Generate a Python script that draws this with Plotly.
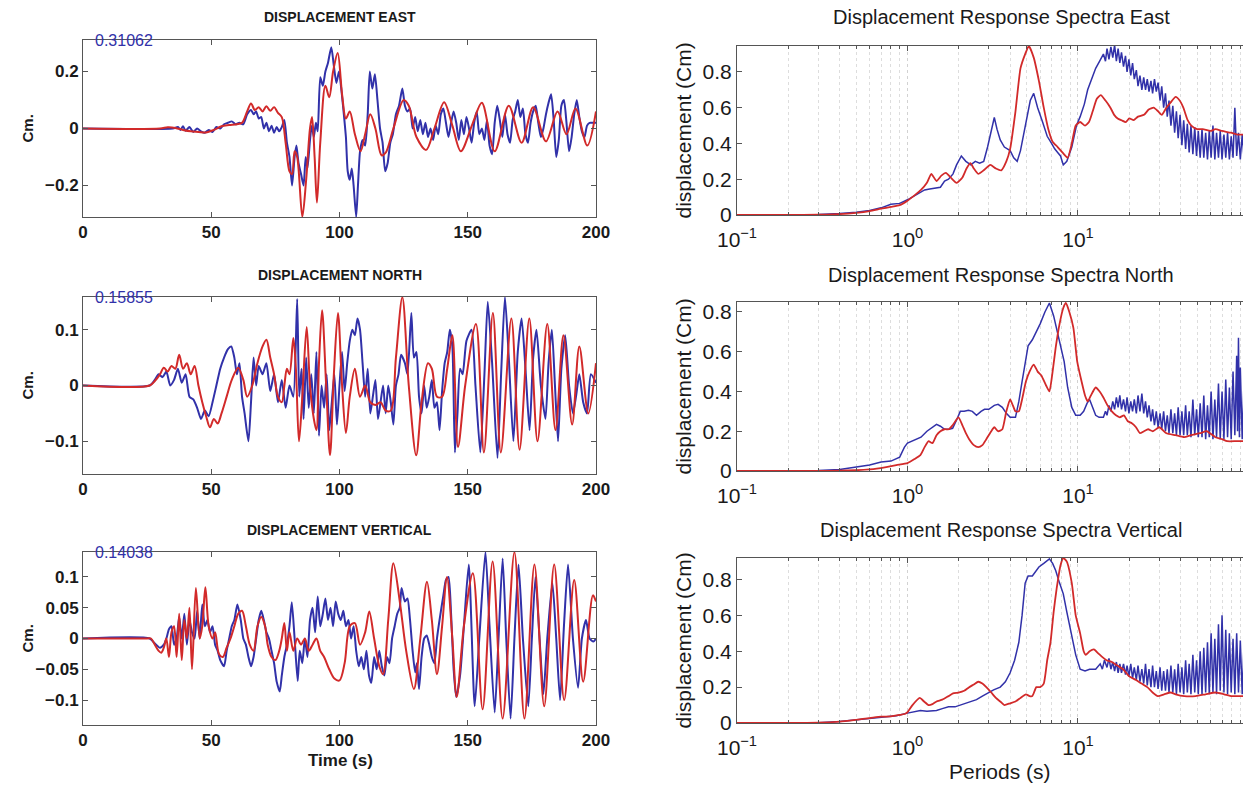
import plotly.graph_objects as go

# ---------------------------------------------------------------------------
# Displacement time histories (time in s, displacement in cm)
# ---------------------------------------------------------------------------
east_t_blue = [0, 35, 37, 38, 39, 40, 41.5, 43, 44.5, 46, 47.5, 49, 50.5, 52, 53.5, 55, 56.5, 58, 59.5, 61,
               62.5, 64, 65.5, 66.5, 67.5, 68.5, 69.5, 70.5, 71.5, 72.5, 73.5, 74.5, 75.5, 76.5, 77.5, 78.5,
               79.5, 80.5, 81.5, 82.5, 83.2, 84, 85, 86, 86.8, 87.5, 88.5, 89.2, 90, 90.8, 91.5, 92.5, 93.5,
               94.5, 95.5, 96.8, 97.8, 98.8, 99.8, 100.8, 101.8, 102.5, 103.2, 104, 104.8, 105.5, 106.5, 107.2,
               108, 109, 110, 111, 111.8, 112.8, 113.8, 114.8, 115.8, 116.8, 117.8, 118.8, 119.8, 120.8, 122,
               123.2, 124.5, 125.5, 126.5, 127.5, 128.5, 129.5, 130.5, 131.5, 132.5, 133.5, 134.5, 135.5,
               136.5, 137.5, 138.5, 139.5, 140.5, 141.5, 142.5, 143.5, 144.5, 145.5, 146.5, 147.5, 148.5,
               149.5, 150.5, 151.5, 152.5, 153.5, 154.5, 155.5, 156.5, 157.5, 158.5, 159.5, 160.5, 161.5,
               162.5, 163.5, 164.5, 165.5, 166.5, 167.5, 168.5, 169.5, 170.5, 171.5, 172.5, 173.5, 174.5,
               175.5, 176.5, 177.5, 178.5, 179.5, 180.5, 181.5, 182.5, 183.5, 184.5, 185.5, 186.5, 187.5,
               188.5, 189.5, 190.5, 191.5, 192.5, 193.5, 194.5, 195.5, 196.5, 197.5, 198.5, 200]
east_blue = [0, 0, 0.005, -0.005, 0.008, -0.008, 0.005, -0.012, 0.0, -0.01, -0.015, -0.005, -0.012, 0.005,
             0.0, 0.015, 0.02, 0.025, 0.015, 0.02, 0.015, 0.05, 0.065, 0.05, 0.06, 0.035, 0.04, 0.0, 0.02,
             -0.01, 0.01, -0.015, 0.005, -0.01, 0.005, 0.03, -0.05, -0.1, -0.2, -0.1, -0.06, -0.12, -0.16,
             -0.2, -0.1, -0.14, -0.04, 0.01, -0.03, 0.02, -0.01, 0.18, 0.15, 0.2, 0.23, 0.285, 0.22, 0.16,
             0.2, 0.13, 0.04, -0.03, -0.15, -0.18, -0.14, -0.2, -0.31062, -0.2, -0.08, -0.04, -0.06, 0.05,
             0.2, 0.14, 0.19, 0.1, 0.0, -0.05, -0.15, -0.12, -0.05, -0.02, 0.05, 0.08, 0.14, 0.08, 0.06,
             0.07, 0.0, 0.04, -0.01, 0.03, -0.02, 0.02, -0.03, 0.0, -0.04, 0.01, -0.02, 0.05, 0.07, 0.02,
             -0.03, 0.02, 0.06, 0.02, -0.04, 0.03, -0.02, 0.04, 0.0, -0.05, 0.02, 0.06, -0.02, 0.0, -0.04,
             0.03, -0.06, -0.09, 0.02, 0.08, 0.03, -0.03, 0.05, -0.02, -0.05, 0.03, 0.06, 0.1, 0.04, 0.07,
             -0.02, -0.05, 0.02, 0.06, 0.08, 0.02, -0.03, 0.0, 0.05, 0.09, 0.12, 0.03, -0.1, -0.04, 0.08,
             0.1, 0.02, -0.08, -0.03, 0.05, 0.1, 0.04, -0.01, -0.03, 0.01, 0.02, 0.02, 0.02]

east_t_red = [0, 30, 33, 36, 39, 42, 45, 48, 51, 54, 57, 60, 62, 64, 65.5, 67, 68.5, 70, 71.5, 73, 74.5, 76,
              77.5, 79, 80.5, 81.5, 82.5, 83.5, 85.5, 87, 88.5, 89.3, 90.3, 91.2, 92.5, 94.5, 96, 97.5, 99.3,
              101, 102.5, 104, 106, 108.2, 110, 112, 114, 116.4, 118, 121, 125, 127, 130, 133.8, 137, 140.8,
              144, 147.3, 152, 155.5, 160.5, 166, 171, 175.5, 180.5, 185, 188.5, 192, 196.6, 200]
east_red = [0, 0, 0.004, 0.002, -0.005, -0.01, -0.012, -0.014, -0.005, 0.008, 0.012, 0.015, 0.02, 0.06,
            0.088, 0.065, 0.075, 0.06, 0.078, 0.062, 0.075, 0.055, 0.04, -0.05, -0.15, -0.16, -0.08, -0.1,
            -0.31, -0.18, 0.0, 0.04, -0.1, -0.26, -0.05, 0.15, 0.11, 0.2, 0.265, 0.12, 0.035, 0.06, -0.02,
            -0.08, -0.02, 0.05, 0.0, -0.094, -0.085, 0.0, 0.1, 0.08, -0.03, -0.075, 0.0, 0.092, 0.01, -0.08,
            0.02, 0.09, -0.08, 0.08, -0.05, 0.075, -0.045, 0.06, -0.02, 0.07, -0.06, 0.06]

north_t_blue = [0, 26, 28, 29.5, 31, 32.5, 34, 35.5, 37, 38.5, 40, 41.5, 43, 44.5, 46, 47.5, 49, 50.5, 52,
                53.5, 55, 56.5, 57.8, 59, 60, 61, 62, 63, 64.5, 65.5, 66.5, 67.5, 68.5, 70, 71.5, 73, 74.5,
                76, 77.5, 79, 80.5, 82, 83.5, 84.3, 85.2, 86, 87, 88, 89, 90, 91, 92, 93, 94, 95, 96, 97, 98,
                99, 100, 101, 102, 103, 104, 105, 106, 107, 108, 109, 110, 111, 112, 113, 114, 115, 116, 117,
                118, 119, 120, 121, 122, 123, 124, 125.5, 126.5, 128, 129, 130, 131, 132, 133, 134, 135, 136,
                137, 138, 139, 140, 141, 142, 143, 144, 145, 146, 147, 148, 149.5, 151.5, 153, 154.9, 156.5,
                157.8, 159.5, 161.6, 163, 164.5, 166, 167.8, 169.5, 171, 172.5, 174.1, 175.5, 176.8, 178.5,
                180.3, 181.5, 182.8, 184, 185.2, 186.5, 188, 189.5, 191, 192.2, 193.5, 195, 196.5, 198, 200]
north_blue = [0, 0, 0.01, 0.02, 0.015, 0.025, 0.0, 0.01, 0.03, 0.005, 0.02, -0.02, -0.025, -0.04, -0.06,
              -0.045, -0.055, -0.03, 0.0, 0.03, 0.05, 0.065, 0.07, 0.05, 0.02, 0.04, -0.02, -0.05, -0.1,
              -0.03, 0.05, 0.0, 0.035, 0.02, 0.04, -0.01, 0.02, -0.03, 0.01, -0.04, 0.0, -0.02, 0.155,
              -0.02, 0.03, -0.06, 0.05, -0.04, 0.02, -0.05, 0.06, -0.09, 0.0, -0.04, 0.02, -0.08, -0.03, 0.02,
              -0.07, 0.0, 0.06, -0.01, 0.04, 0.08, 0.1, 0.09, 0.12, 0.1, 0.04, -0.02, 0.03, -0.05, -0.02,
              0.01, -0.06, -0.03, 0.0, -0.05, 0.0, -0.03, -0.07, 0.0, 0.02, 0.055, 0.04, 0.02, 0.13, 0.05,
              0.06, -0.02, -0.05, 0.0, -0.04, -0.02, 0.01, -0.04, -0.03, -0.08, -0.01, 0.04, 0.06, 0.1, 0.07,
              -0.12, -0.05, 0.03, 0.02, 0.08, 0.1, 0.0, -0.12, 0.02, 0.15, 0.04, -0.13, 0.02, 0.15855, 0.05,
              -0.1, 0.06, 0.12, 0.03, -0.08, 0.05, 0.1, 0.0, -0.06, 0.04, 0.1, 0.0, -0.1, 0.03, 0.09, 0.0,
              -0.05, -0.02, 0.02, -0.03, -0.05, 0.02, 0.005]

north_t_red = [0, 26, 28, 30, 31.5, 33, 34.5, 36, 37.5, 39, 40.5, 42, 43.5, 45, 46.5, 48, 49.5, 51, 52.5,
               54, 56, 58, 60.5, 62.5, 64, 66, 68, 70, 71.5, 73, 74.5, 76, 77.5, 78.5, 79.5, 80.5, 82, 83,
               84.2, 85.5, 87.2, 88.5, 90, 91, 92, 93.2, 94.8, 96.3, 97.8, 99.4, 101, 102.5, 104, 106, 108,
               110, 112, 114, 116, 118, 120, 122, 124.5, 127, 129.9, 132, 134.5, 136, 138, 140, 142, 144,
               146.2, 149, 153.2, 156.3, 159.8, 162.9, 167, 170.2, 174, 177.2, 181, 184.2, 187.3, 190.7,
               193.5, 197, 200]
north_red = [0, 0, 0.008, 0.02, 0.032, 0.025, 0.035, 0.03, 0.055, 0.03, 0.04, 0.02, 0.035, 0.0, -0.03,
             -0.055, -0.075, -0.06, -0.068, -0.05, -0.02, 0.01, 0.032, 0.01, -0.02, 0.0, 0.04, 0.07, 0.082,
             0.05, 0.02, -0.02, -0.03, 0.0, 0.03, 0.02, 0.085, 0.03, -0.1, -0.02, 0.105, 0.0, -0.06, -0.08,
             0.04, 0.135, 0.0, -0.125, 0.02, 0.13, 0.0, -0.085, -0.02, 0.03, -0.02, 0.0, -0.03, -0.035,
             -0.03, -0.045, -0.045, 0.05, 0.158, 0.0, -0.125, -0.03, 0.04, 0.03, -0.02, -0.02, 0.03, 0.09,
             -0.11, 0.0, 0.11, -0.12, 0.13, -0.12, 0.12, -0.115, 0.12, -0.1, 0.11, -0.08, 0.09, -0.07, 0.07,
             -0.05, 0.04]

vert_t_blue = [0, 26, 28, 30, 31.5, 32.5, 33.5, 34.5, 35.5, 36.5, 37.5, 38.5, 39.5, 40.5, 41.5, 42.5, 43.5,
               44.5, 45.5, 46.5, 47.5, 48.5, 49.5, 50.5, 51.5, 52.5, 53.5, 55, 56, 57, 58, 59, 60.2, 61.5,
               62.5, 63.5, 64.5, 65.5, 66.5, 67.5, 68.5, 69.5, 70.5, 71.5, 72.5, 73.5, 74.5, 75.5, 76.7,
               77.5, 78.5, 79.5, 80.5, 81.4, 82.5, 83.7, 84.5, 85.5, 86.5, 87.5, 88.5, 89.5, 90.5, 91.5,
               92.5, 93.5, 94.5, 95.5, 96.5, 97.5, 98.5, 99.5, 100.5, 101.5, 102.5, 103.5, 104.5, 105.5,
               106.5, 107.5, 108.5, 109.5, 110.5, 111.5, 112.4, 113.5, 114.5, 115.5, 116.5, 117.5, 118.5,
               119.5, 120.5, 121.5, 122.5, 123.5, 124.2, 125.5, 126.5, 127.5, 128.5, 129.5, 130.2, 131, 132,
               133, 134, 135, 136, 137, 138, 139, 140.5, 141.5, 142.5, 143.5, 144.5, 145.5, 147, 148.5,
               150.4, 152.7, 154.5, 156.9, 158.5, 160.5, 162, 163.6, 165, 166.7, 168.2, 169.8, 171.5, 173.6,
               175, 176.4, 178, 179.5, 181, 183, 184.5, 186, 187.5, 189.1, 191, 193, 194.5, 196.1, 197.5,
               199, 200]
vert_blue = [0, 0, -0.008, -0.015, -0.01, 0.0, 0.015, 0.02, -0.01, 0.0, 0.035, 0.0, 0.04, -0.01, 0.03,
             0.01, 0.0, 0.045, 0.0, 0.055, 0.02, 0.03, 0.01, 0.02, -0.01, -0.02, -0.035, -0.045, -0.02, 0.0,
             0.02, 0.03, 0.055, 0.03, 0.0, -0.01, -0.03, -0.045, -0.03, 0.0, 0.03, 0.045, 0.03, 0.01, 0.0,
             -0.02, -0.04, -0.07, -0.086, -0.06, -0.03, -0.01, 0.02, 0.059, 0.0, -0.069, -0.02, -0.04, 0.0,
             -0.03, 0.03, 0.05, 0.01, 0.068, 0.02, 0.04, 0.065, 0.03, 0.05, 0.02, 0.06, 0.04, 0.03, 0.045,
             0.02, 0.03, 0.0, 0.02, -0.02, -0.045, -0.03, -0.05, -0.02, -0.06, -0.072, -0.03, -0.05, -0.02,
             -0.045, -0.06, -0.03, -0.04, 0.0, 0.02, 0.04, 0.05, 0.082, 0.06, 0.065, 0.03, -0.02, -0.055,
             -0.04, -0.082, -0.03, 0.0, 0.005, -0.01, -0.03, -0.04, 0.0, 0.03, 0.07, 0.095, 0.1, 0.04,
             -0.05, -0.095, -0.06, 0.02, 0.12, -0.11, 0.0, 0.14038, 0.02, -0.12, 0.0, 0.13, 0.0, -0.13, 0.0,
             0.12, 0.0, -0.11, 0.0, 0.1, 0.0, -0.09, 0.0, 0.09, 0.0, -0.1, 0.02, 0.12, 0.0, -0.08, 0.0,
             0.03, 0.0, -0.005, 0.0]

vert_t_red = [0, 25, 26.5, 28, 29.5, 30.5, 31.5, 32.5, 33.5, 34.5, 35.5, 36.5, 37.5, 38.5, 39.5, 40.5,
              41.5, 42.5, 44, 45.5, 46.5, 47.7, 49, 50.5, 51.5, 53, 54.5, 56, 57.5, 59, 60.5, 62, 63.5, 65,
              66.5, 68, 69.5, 71, 72, 73.5, 75, 76.5, 77.5, 78.5, 79.5, 80.5, 82, 83.5, 85, 86.5, 88, 89.5,
              91, 92.5, 94, 96, 98, 100, 102, 104, 106, 108, 110, 111.6, 113.5, 115.5, 117, 119, 121, 123.5,
              126, 129, 131.5, 134.1, 136, 138, 140, 141.9, 144, 145.7, 148.5, 152, 155.8, 159.7, 163.6,
              168.2, 172.1, 176, 179.8, 183.7, 187.6, 191.5, 195, 198.8, 200]
vert_red = [0, 0, 0.0, -0.01, -0.02, -0.023, -0.015, 0.0, -0.03, 0.01, 0.02, -0.03, 0.04, -0.035, 0.03,
            0.0, 0.05, -0.05, 0.082, 0.0, 0.02, 0.083, 0.02, 0.0, 0.01, -0.025, -0.03, -0.015, 0.0, 0.02,
            0.04, 0.045, 0.02, -0.01, -0.02, 0.02, 0.035, 0.02, -0.01, -0.03, -0.035, -0.02, 0.0, 0.025,
            -0.02, 0.01, -0.02, 0.0, -0.01, 0.0, -0.02, -0.01, 0.0, -0.02, -0.03, -0.05, -0.065, -0.068,
            -0.04, 0.02, 0.025, -0.01, 0.01, 0.044, 0.0, -0.045, -0.058, 0.03, 0.122, 0.06, -0.02, -0.082,
            0.0, 0.092, 0.03, -0.058, 0.02, 0.1, 0.0, -0.095, 0.02, 0.106, -0.115, 0.125, -0.13, 0.14, -0.13,
            0.12, -0.11, 0.12, -0.1, 0.095, -0.07, 0.07, 0.06]

peak_labels = ["0.31062", "0.15855", "0.14038"]
peak_values = [0.31062, 0.15855, 0.14038]

# ---------------------------------------------------------------------------
# Displacement response spectra (period in s, displacement in cm)
# ---------------------------------------------------------------------------
sp_east_p_blue = [0.1, 0.2, 0.3, 0.4, 0.5, 0.6, 0.7, 0.8, 0.9, 1.0, 1.07, 1.15, 1.26, 1.35, 1.45, 1.56, 1.65,
                  1.74, 1.85, 1.94, 2.07, 2.2, 2.35, 2.5, 2.65, 2.8, 2.95, 3.1, 3.23, 3.35, 3.5, 3.7, 4.0,
                  4.2, 4.4, 4.6, 4.8, 5.0, 5.25, 5.5, 5.8, 6.2, 6.6, 7.0, 7.3, 7.6, 7.9, 8.2, 8.6, 9.2, 9.8,
                  10.3, 10.9, 11.4, 12.0, 12.7, 13.4,
                  14.1, 14.5, 14.8, 15.2, 15.6, 16.0, 16.4, 16.8, 17.2, 17.6, 18.0, 18.5, 19.0, 19.4, 19.9,
                  20.4, 20.9, 21.4, 22.0, 22.5, 23.1, 23.7, 24.3, 24.9, 25.5, 26.1, 26.8, 27.4, 28.1, 28.8,
                  29.5, 30.3, 31.0, 31.8, 32.6, 33.4, 34.2, 35.1, 36.0, 36.9, 37.8, 38.7, 39.7, 40.7, 41.7,
                  42.8, 43.8, 44.9, 46.0, 47.2, 48.4, 49.6, 50.8, 52.1, 53.4, 54.7, 56.1, 57.5, 58.9, 60.4,
                  61.9, 63.5, 65.0, 66.7, 68.3, 70.0, 71.8, 73.6, 75.4, 77.3, 79.2, 81.2, 83.2, 85.3, 87.4,
                  89.6, 91.9, 94.2, 96.5]
sp_east_blue = [0, 0.0005, 0.003, 0.008, 0.015, 0.025, 0.04, 0.06, 0.065, 0.085, 0.1, 0.12, 0.14, 0.145,
                0.15, 0.155, 0.19, 0.2, 0.23, 0.28, 0.33, 0.3, 0.28, 0.3, 0.29, 0.3, 0.38, 0.48, 0.545,
                0.48, 0.42, 0.38, 0.36, 0.32, 0.3, 0.36, 0.45, 0.55, 0.64, 0.68, 0.6, 0.52, 0.44, 0.4, 0.37,
                0.35, 0.33, 0.28, 0.3, 0.38, 0.5, 0.55, 0.62, 0.7, 0.76, 0.82, 0.86,
                0.90, 0.86, 0.93, 0.87, 0.94, 0.88, 0.95, 0.86, 0.93, 0.85, 0.91, 0.83, 0.89, 0.80, 0.87,
                0.78, 0.85, 0.76, 0.81, 0.72, 0.78, 0.70, 0.77, 0.70, 0.76, 0.69, 0.75, 0.68, 0.76, 0.69,
                0.74, 0.64, 0.72, 0.60, 0.68, 0.55, 0.64, 0.50, 0.61, 0.46, 0.58, 0.43, 0.56, 0.39, 0.53,
                0.37, 0.51, 0.35, 0.50, 0.34, 0.49, 0.33, 0.47, 0.32, 0.48, 0.32, 0.46, 0.31, 0.47, 0.32,
                0.50, 0.31, 0.46, 0.32, 0.47, 0.31, 0.45, 0.32, 0.46, 0.31, 0.44, 0.32, 0.60, 0.33, 0.46,
                0.31, 0.45, 0.32, 0.44]

sp_east_p_red = [0.1, 0.2, 0.3, 0.4, 0.5, 0.6, 0.7, 0.8, 0.9, 1.0, 1.1, 1.2, 1.3, 1.38, 1.48, 1.58, 1.68,
                 1.79, 1.94, 2.1, 2.22, 2.34, 2.45, 2.6, 2.8, 3.06, 3.3, 3.55, 3.8, 4.0, 4.3, 4.6, 4.9, 5.15,
                 5.5, 5.9, 6.3, 6.7, 7.1, 7.6, 8.1, 8.7, 9.2, 9.7, 10.3, 11.0, 11.6, 12.2, 12.9, 13.6, 14.5,
                 15.5, 16.3, 17.1, 18.0, 19.1, 20.0, 21.2, 22.5, 24.4, 26.0, 27.8, 29.5, 31.0, 33.0, 35.0,
                 37.4, 39.5, 41.5, 44.0, 46.2, 50, 54, 60, 64, 70, 79, 86, 95]
sp_east_red = [0, 0.0005, 0.002, 0.005, 0.012, 0.022, 0.035, 0.045, 0.055, 0.08, 0.11, 0.14, 0.18, 0.23,
               0.19, 0.22, 0.235, 0.21, 0.18, 0.21, 0.26, 0.29, 0.26, 0.23, 0.25, 0.28, 0.26, 0.25, 0.3,
               0.37, 0.58, 0.82, 0.9, 0.945, 0.88, 0.75, 0.6, 0.48, 0.41, 0.38, 0.35, 0.32, 0.4, 0.5, 0.52,
               0.5, 0.52, 0.58, 0.65, 0.67, 0.64, 0.6, 0.56, 0.54, 0.53, 0.52, 0.54, 0.53, 0.55, 0.56, 0.59,
               0.6, 0.58, 0.56, 0.6, 0.63, 0.66, 0.64, 0.6, 0.53, 0.5, 0.48, 0.48, 0.47, 0.48, 0.47, 0.46,
               0.45, 0.45]

sp_north_p_blue = [0.1, 0.2, 0.3, 0.4, 0.5, 0.6, 0.7, 0.8, 0.9, 0.96, 1.0, 1.1, 1.2, 1.3, 1.4, 1.48, 1.56,
                   1.65, 1.75, 1.84, 1.95, 2.04, 2.15, 2.28, 2.4, 2.54, 2.7, 2.83, 3.0, 3.23, 3.4, 3.6, 3.8,
                   4.0, 4.3, 4.5, 4.7, 4.9, 5.1, 5.4, 5.7, 6.0, 6.4, 6.8, 7.2, 7.8, 8.3, 8.7, 9.2, 9.7, 10.3,
                   10.8, 11.3, 11.7, 12.2, 12.7, 13.3,
                   14.1, 14.5, 14.8, 15.2, 15.6, 16.0, 16.4, 16.8, 17.2, 17.6, 18.0, 18.5, 19.0, 19.4, 19.9,
                   20.4, 20.9, 21.4, 22.0, 22.5, 23.1, 23.7, 24.3, 24.9, 25.5, 26.1, 26.8, 27.4, 28.1, 28.8,
                   29.5, 30.3, 31.0, 31.8, 32.6, 33.4, 34.2, 35.1, 36.0, 36.9, 37.8, 38.7, 39.7, 40.7, 41.7,
                   42.8, 43.8, 44.9, 46.0, 47.2, 48.4, 49.6, 50.8, 52.1, 53.4, 54.7, 56.1, 57.5, 58.9, 60.4,
                   61.9, 63.5, 65.0, 66.7, 68.3, 70.0, 71.8, 73.6, 75.4, 77.3, 79.2, 81.2, 83.2, 85.3, 86.3,
                   87.4, 88.5, 89.6, 91.9, 94.2, 96.5]
sp_north_blue = [0, 0.0, 0.003, 0.008, 0.02, 0.03, 0.045, 0.05, 0.07, 0.12, 0.14, 0.155, 0.17, 0.2, 0.22,
                 0.235, 0.225, 0.21, 0.21, 0.215, 0.26, 0.3, 0.3, 0.305, 0.3, 0.28, 0.3, 0.31, 0.31, 0.33,
                 0.335, 0.32, 0.29, 0.27, 0.27, 0.35, 0.45, 0.55, 0.63, 0.66, 0.7, 0.74, 0.8, 0.845, 0.78,
                 0.65, 0.55, 0.42, 0.32, 0.28, 0.28, 0.3, 0.34, 0.36, 0.32, 0.28, 0.27,
                 0.27, 0.30, 0.28, 0.33, 0.30, 0.35, 0.31, 0.37, 0.32, 0.38, 0.31, 0.36, 0.30, 0.37, 0.29,
                 0.35, 0.30, 0.36, 0.29, 0.38, 0.30, 0.39, 0.29, 0.35, 0.27, 0.33, 0.25, 0.31, 0.23, 0.30,
                 0.22, 0.29, 0.21, 0.30, 0.20, 0.28, 0.19, 0.31, 0.19, 0.29, 0.18, 0.32, 0.18, 0.30, 0.18,
                 0.33, 0.18, 0.30, 0.17, 0.36, 0.18, 0.31, 0.17, 0.34, 0.17, 0.38, 0.16, 0.33, 0.17, 0.40,
                 0.16, 0.36, 0.17, 0.44, 0.16, 0.40, 0.16, 0.46, 0.17, 0.42, 0.16, 0.50, 0.18, 0.58, 0.20,
                 0.67, 0.17, 0.52, 0.16, 0.45, 0.20]

sp_north_p_red = [0.1, 0.3, 0.4, 0.5, 0.6, 0.66, 0.75, 0.86, 1.0, 1.1, 1.19, 1.26, 1.33, 1.4, 1.48, 1.56,
                  1.65, 1.75, 1.84, 1.99, 2.1, 2.2, 2.3, 2.45, 2.6, 2.75, 2.9, 3.1, 3.23, 3.4, 3.6, 3.8, 4.0,
                  4.15, 4.3, 4.5, 4.7, 4.95, 5.2, 5.5, 5.8, 6.1, 6.5, 6.8, 7.1, 7.4, 7.8, 8.2, 8.5, 8.9, 9.4,
                  9.9, 10.5, 11.0, 11.4, 11.9, 12.7, 13.4, 14.1, 14.9, 15.8, 16.7, 17.6, 18.6, 19.6, 20.7,
                  21.9, 23.1, 24.4, 25.8, 27.5, 30.0, 33.0, 37.4, 42, 46, 52, 57, 64, 70, 75, 85, 95]
sp_north_red = [0, 0.0, 0.002, 0.004, 0.008, 0.012, 0.02, 0.03, 0.04, 0.06, 0.08, 0.12, 0.15, 0.14, 0.18,
                0.2, 0.21, 0.21, 0.23, 0.27, 0.23, 0.19, 0.16, 0.13, 0.12, 0.13, 0.16, 0.2, 0.22, 0.2, 0.21,
                0.3, 0.36, 0.33, 0.3, 0.3, 0.36, 0.45, 0.5, 0.535, 0.5, 0.48, 0.43, 0.4, 0.5, 0.62, 0.74,
                0.82, 0.845, 0.8, 0.72, 0.55, 0.45, 0.38, 0.35, 0.38, 0.42, 0.4, 0.37, 0.33, 0.3, 0.28, 0.27,
                0.28, 0.25, 0.24, 0.22, 0.19, 0.2, 0.21, 0.2, 0.22, 0.19, 0.18, 0.17, 0.18, 0.19, 0.2, 0.17,
                0.16, 0.15, 0.15, 0.15]

sp_vert_p_blue = [0.1, 0.3, 0.4, 0.5, 0.6, 0.7, 0.86, 1.0, 1.1, 1.19, 1.3, 1.48, 1.6, 1.74, 1.9, 2.04, 2.3,
                  2.54, 2.75, 2.97, 3.2, 3.5, 3.75, 4.0, 4.25, 4.5, 4.7, 4.9, 5.1, 5.4, 5.7, 5.9, 6.3, 6.8,
                  7.1, 7.4, 7.8, 8.2, 8.6, 9.2, 9.7, 10.3, 11.0, 11.7, 12.7,
                  13.5, 13.9, 14.3, 14.8, 15.2, 15.6, 16.0, 16.4, 16.8, 17.2, 17.6, 18.0, 18.5, 19.0, 19.4,
                  19.9, 20.4, 20.9, 21.4, 22.0, 22.5, 23.1, 23.7, 24.3, 24.9, 25.5, 26.1, 26.8, 27.4, 28.1,
                  28.8, 29.5, 30.3, 31.0, 31.8, 32.6, 33.4, 34.2, 35.1, 36.0, 36.9, 37.8, 38.7, 39.7, 40.7,
                  41.7, 42.8, 43.8, 44.9, 46.0, 47.2, 48.4, 49.6, 50.8, 52.1, 53.4, 54.7, 56.1, 57.5, 58.9,
                  60.4, 61.9, 63.5, 65.0, 66.7, 68.3, 70.0, 71.8, 73.6, 75.4, 77.3, 79.2, 81.2, 83.2, 85.3,
                  87.4, 89.6, 91.9, 94.2, 96.5]
sp_vert_blue = [0, 0.002, 0.008, 0.018, 0.025, 0.03, 0.04, 0.055, 0.065, 0.07, 0.065, 0.07, 0.08, 0.09,
                0.09, 0.1, 0.115, 0.13, 0.15, 0.17, 0.185, 0.2, 0.23, 0.28, 0.35, 0.45, 0.6, 0.78, 0.82,
                0.82, 0.85, 0.87, 0.89, 0.915, 0.89, 0.85, 0.78, 0.72, 0.62, 0.48, 0.38, 0.3, 0.29, 0.3, 0.3,
                0.33, 0.30, 0.35, 0.31, 0.36, 0.30, 0.34, 0.29, 0.34, 0.28, 0.33, 0.28, 0.33, 0.27, 0.32,
                0.26, 0.33, 0.25, 0.31, 0.24, 0.32, 0.23, 0.30, 0.22, 0.33, 0.21, 0.30, 0.20, 0.32, 0.20,
                0.29, 0.19, 0.31, 0.18, 0.29, 0.18, 0.30, 0.17, 0.32, 0.17, 0.30, 0.16, 0.33, 0.17, 0.31,
                0.16, 0.35, 0.17, 0.33, 0.16, 0.38, 0.17, 0.35, 0.16, 0.40, 0.16, 0.42, 0.17, 0.45, 0.16,
                0.50, 0.17, 0.47, 0.16, 0.55, 0.18, 0.60, 0.17, 0.52, 0.16, 0.50, 0.17, 0.47, 0.16, 0.50,
                0.17, 0.46, 0.16, 0.44, 0.22]

sp_vert_p_red = [0.1, 0.3, 0.4, 0.5, 0.6, 0.7, 0.8, 0.9, 0.96, 1.0, 1.07, 1.18, 1.25, 1.33, 1.4, 1.48, 1.6,
                 1.74, 1.85, 1.99, 2.15, 2.3, 2.45, 2.6, 2.75, 2.9, 3.1, 3.3, 3.5, 3.7, 4.0, 4.3, 4.6, 4.95,
                 5.2, 5.4, 5.7, 6.0, 6.3, 6.6, 6.9, 7.2, 7.5, 7.9, 8.2, 8.6, 9.2, 9.7, 10.3, 10.8, 11.1, 11.7,
                 12.4, 13.1, 13.8, 14.7, 15.8, 17.0, 18.4, 20.0, 21.9, 23.6, 25.5, 27.4, 29.4, 32, 35, 37.4,
                 42, 49, 56, 64, 72, 80, 95]
sp_vert_red = [0, 0.002, 0.008, 0.018, 0.027, 0.035, 0.037, 0.045, 0.05, 0.06, 0.1, 0.14, 0.12, 0.1, 0.105,
               0.12, 0.13, 0.15, 0.165, 0.17, 0.18, 0.2, 0.215, 0.23, 0.22, 0.2, 0.17, 0.14, 0.12, 0.1, 0.11,
               0.12, 0.14, 0.16, 0.15, 0.15, 0.2, 0.2, 0.22, 0.35, 0.45, 0.62, 0.75, 0.88, 0.92, 0.9, 0.78,
               0.6, 0.5, 0.4, 0.38, 0.4, 0.41, 0.39, 0.37, 0.35, 0.34, 0.32, 0.3, 0.26, 0.24, 0.22, 0.2, 0.17,
               0.15, 0.16, 0.17, 0.16, 0.15, 0.15, 0.16, 0.17, 0.16, 0.15, 0.15]

spectra_tops = [0.945, 0.85, 0.92]

time_titles = ["DISPLACEMENT EAST", "DISPLACEMENT NORTH", "DISPLACEMENT VERTICAL"]
spectra_titles = ["Displacement Response Spectra East", "Displacement Response Spectra North",
                  "Displacement Response Spectra Vertical"]
time_ticks = [[-0.2, 0, 0.2], [-0.1, 0, 0.1], [-0.1, -0.05, 0, 0.05, 0.1]]
time_xticks = [0, 50, 100, 150, 200]
spectra_yticks = [0, 0.2, 0.4, 0.6, 0.8]
period_ticks = [0.1, 1, 10]
period_ticktext = ["10<sup>\u22121</sup>", "10<sup>0</sup>", "10<sup>1</sup>"]
period_minor = [0.2, 0.3, 0.4, 0.5, 0.6, 0.7, 0.8, 0.9, 2, 3, 4, 5, 6, 7, 8, 9,
                20, 30, 40, 50, 60, 70, 80, 90]

# ---------------------------------------------------------------------------
# Styling / layout
# ---------------------------------------------------------------------------
W, H = 1243, 786
BLUE = "#3131a9"
RED = "#d22a2a"
AXIS = "#555555"
INK = "#1a1a1a"
FONT = "Liberation Sans, Arial, Helvetica, sans-serif"


def fx(px):
    return px / W


def fy(px):
    return 1 - px / H


left_rows = [(40, 217), (297, 474), (552, 725)]
right_rows = [(46, 215), (302, 471), (558, 723)]
left_x = (83, 596)
right_x = (737, W)
title_y = [17, 275, 530]

time_series = [
    (east_t_blue, east_blue, east_t_red, east_red),
    (north_t_blue, north_blue, north_t_red, north_red),
    (vert_t_blue, vert_blue, vert_t_red, vert_red),
]
spectra = [
    (sp_east_p_blue, sp_east_blue, sp_east_p_red, sp_east_red),
    (sp_north_p_blue, sp_north_blue, sp_north_p_red, sp_north_red),
    (sp_vert_p_blue, sp_vert_blue, sp_vert_p_red, sp_vert_red),
]

fig = go.Figure()
layout = dict(
    width=W, height=H, autosize=False,
    margin=dict(l=0, r=0, t=0, b=0, autoexpand=False),
    paper_bgcolor="white", plot_bgcolor="white",
    showlegend=False,
    font=dict(family=FONT, color=INK),
)
annotations = []

for i in range(3):
    # ---- time history panel ----
    n = 2 * i + 1
    xa, ya = f"x{n}", f"y{n}"
    tb, vb, tr, vr = time_series[i]
    fig.add_trace(go.Scatter(x=tb, y=vb, mode="lines", xaxis=xa, yaxis=ya,
                             line=dict(color=BLUE, width=2, shape="spline", smoothing=0.6)))
    fig.add_trace(go.Scatter(x=tr, y=vr, mode="lines", xaxis=xa, yaxis=ya,
                             line=dict(color=RED, width=2, shape="spline", smoothing=0.9)))
    top, bot = left_rows[i]
    lim = peak_values[i]
    layout[f"xaxis{n}"] = dict(
        domain=[fx(left_x[0]), fx(left_x[1])], anchor=ya, range=[0, 200], automargin=False,
        tickvals=time_xticks, ticks="inside", ticklen=5, tickcolor=AXIS,
        showline=True, linecolor=AXIS, linewidth=1, mirror="ticks",
        showgrid=False, zeroline=False,
        tickfont=dict(size=17, family=FONT, weight="bold", color=INK),
    )
    layout[f"yaxis{n}"] = dict(
        domain=[fy(bot), fy(top)], anchor=xa, range=[-lim, lim], automargin=False,
        tickvals=time_ticks[i], ticks="inside", ticklen=5, tickcolor=AXIS,
        showline=True, linecolor=AXIS, linewidth=1, mirror="ticks",
        showgrid=False, zeroline=False,
        tickfont=dict(size=17, family=FONT, weight="bold", color=INK),
    )
    annotations.append(dict(text=time_titles[i], x=fx((left_x[0] + left_x[1]) / 2), y=fy(title_y[i]),
                            xref="paper", yref="paper", showarrow=False, xanchor="center", yanchor="middle",
                            font=dict(size=14, family=FONT, weight="bold", color=INK)))
    annotations.append(dict(text=peak_labels[i], x=4, y=lim, xref=xa, yref=ya, showarrow=False,
                            xanchor="left", yanchor="middle",
                            font=dict(size=16, family=FONT, color=BLUE)))
    annotations.append(dict(text="Cm.", x=fx(27), y=fy((top + bot) / 2), xref="paper", yref="paper",
                            showarrow=False, textangle=-90, xanchor="center", yanchor="middle",
                            font=dict(size=15, family=FONT, weight="bold", color=INK)))

    # ---- response spectrum panel ----
    m = 2 * i + 2
    xa, ya = f"x{m}", f"y{m}"
    pb, sb, pr, sr = spectra[i]
    fig.add_trace(go.Scatter(x=pb, y=sb, mode="lines", xaxis=xa, yaxis=ya,
                             line=dict(color=BLUE, width=1.5)))
    fig.add_trace(go.Scatter(x=pr, y=sr, mode="lines", xaxis=xa, yaxis=ya,
                             line=dict(color=RED, width=1.8, shape="spline", smoothing=0.5)))
    top, bot = right_rows[i]
    layout[f"xaxis{m}"] = dict(
        type="log", domain=[fx(right_x[0]), 1.0], anchor=ya, range=[-1, 1.968], automargin=False,
        tickvals=period_ticks, ticktext=period_ticktext, ticklabelstandoff=6,
        ticks="inside", ticklen=5, tickcolor=AXIS,
        showline=True, linecolor=AXIS, linewidth=1, mirror="ticks",
        showgrid=True, gridcolor="#d2d2d2", griddash="dot", gridwidth=1, zeroline=False,
        minor=dict(tickvals=period_minor, ticks="inside", ticklen=3, tickcolor=AXIS,
                   showgrid=True, gridcolor="#dddddd", griddash="dot", gridwidth=1),
        tickfont=dict(size=21, family=FONT, color=INK),
    )
    layout[f"yaxis{m}"] = dict(
        domain=[fy(bot), fy(top)], anchor=xa, range=[0, spectra_tops[i]], automargin=False,
        tickvals=spectra_yticks, ticks="inside", ticklen=5, tickcolor=AXIS,
        showline=True, linecolor=AXIS, linewidth=1, mirror=False,
        showgrid=False, zeroline=False,
        tickfont=dict(size=21, family=FONT, color=INK),
    )
    annotations.append(dict(text=spectra_titles[i], x=fx(1001), y=fy(title_y[i]),
                            xref="paper", yref="paper", showarrow=False, xanchor="center", yanchor="middle",
                            font=dict(size=20, family=FONT, color=INK)))
    annotations.append(dict(text="displacement (Cm)", x=fx(683), y=fy((top + bot) / 2),
                            xref="paper", yref="paper", showarrow=False, textangle=-90,
                            xanchor="center", yanchor="middle",
                            font=dict(size=21, family=FONT, color=INK)))

annotations.append(dict(text="Time (s)", x=fx(340), y=fy(760), xref="paper", yref="paper", showarrow=False,
                        xanchor="center", yanchor="middle",
                        font=dict(size=17, family=FONT, weight="bold", color=INK)))
annotations.append(dict(text="Periods (s)", x=fx(1000), y=fy(771), xref="paper", yref="paper",
                        showarrow=False, xanchor="center", yanchor="middle",
                        font=dict(size=21, family=FONT, color=INK)))

layout["annotations"] = annotations
fig.update_layout(**layout)
fig.write_html("out.html")
